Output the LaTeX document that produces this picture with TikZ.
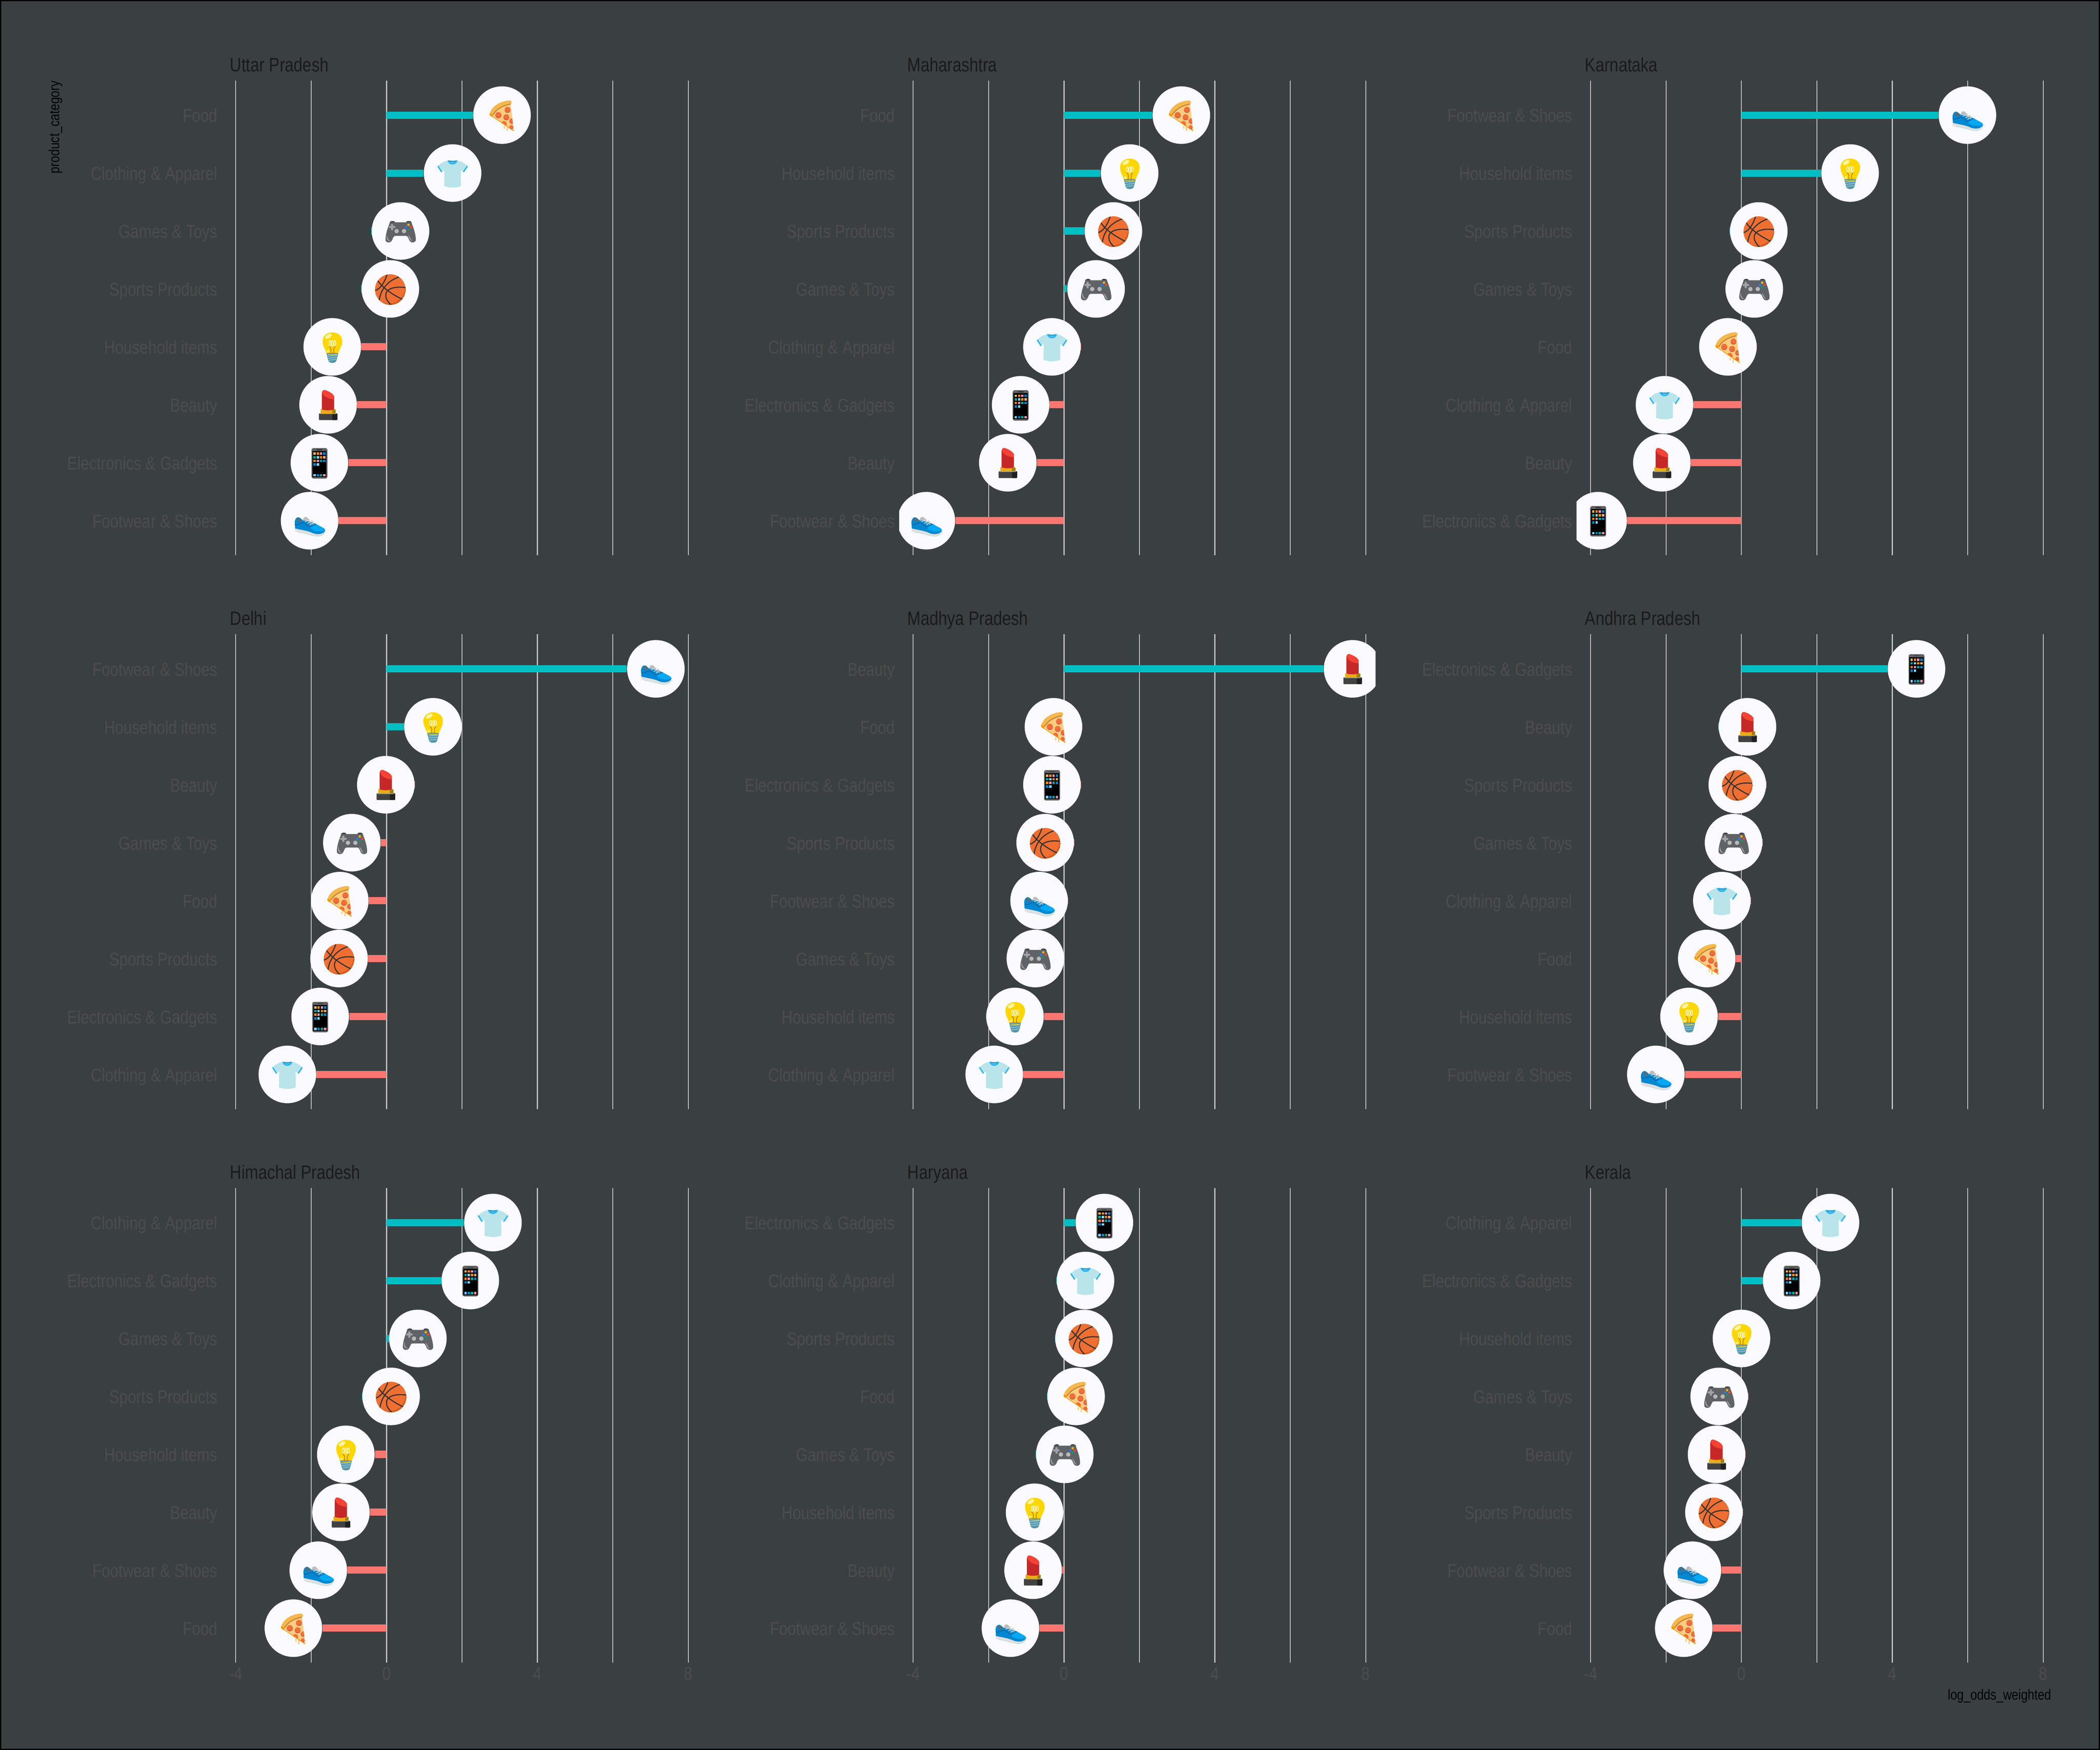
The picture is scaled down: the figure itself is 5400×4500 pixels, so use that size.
\documentclass[tikz,border=0pt]{standalone}
\usepackage{fontspec}
\setmainfont[FakeStretch=0.82]{Liberation Sans}
\usetikzlibrary{backgrounds}

\definecolor{pagebg}{HTML}{3A3F42}
\definecolor{gridc}{HTML}{C4C4C4}
\definecolor{labelc}{HTML}{4D4D4D}
\definecolor{titlec}{HTML}{1A1A1A}
\definecolor{barpos}{HTML}{00BFC4}
\definecolor{barneg}{HTML}{FB7670}
\definecolor{badgec}{HTML}{FBFBFF}
% Emoji colours.
\definecolor{cheese}{HTML}{FFCC80}
\definecolor{crust}{HTML}{F5B84F}
\definecolor{crustd}{HTML}{C47F2D}
\definecolor{sauce}{HTML}{FF9800}
\definecolor{pepper}{HTML}{EE6F37}
\definecolor{pepperd}{HTML}{D32F3F}
\definecolor{shirt}{HTML}{B9E4EA}
\definecolor{shirtc}{HTML}{29B6F6}
\definecolor{shirtd}{HTML}{0288D1}
\definecolor{shirti}{HTML}{8FC7C9}
\definecolor{padc}{HTML}{5F6368}
\definecolor{padd}{HTML}{3C4043}
\definecolor{padl}{HTML}{B8B8B8}
\definecolor{padm}{HTML}{A0A2A4}
\definecolor{btny}{HTML}{FFB300}
\definecolor{btnb}{HTML}{2979FF}
\definecolor{btnr}{HTML}{F44336}
\definecolor{btng}{HTML}{0F9D58}
\definecolor{ballc}{HTML}{EF6F32}
\definecolor{balld}{HTML}{D95B1C}
\definecolor{balll}{HTML}{333333}
\definecolor{bulbc}{HTML}{FFD600}
\definecolor{bulbl}{HTML}{FFF59D}
\definecolor{bulbs}{HTML}{A66500}
\definecolor{basec}{HTML}{5596AB}
\definecolor{basel}{HTML}{94CBD8}
\definecolor{lipd}{HTML}{C62828}
\definecolor{lipl}{HTML}{F44336}
\definecolor{gold}{HTML}{E9AB17}
\definecolor{goldd}{HTML}{A17F12}
\definecolor{tube}{HTML}{424242}
\definecolor{tubed}{HTML}{212121}
\definecolor{tubel}{HTML}{78909C}
\definecolor{phone}{HTML}{616161}
\definecolor{apptan}{HTML}{E0B070}
\definecolor{apporg}{HTML}{FB8C00}
\definecolor{apppnk}{HTML}{F48FB1}
\definecolor{appblu}{HTML}{0288D1}
\definecolor{apptea}{HTML}{00AF94}
\definecolor{appsky}{HTML}{81D4FA}
\definecolor{shoec}{HTML}{0288D1}
\definecolor{shoed}{HTML}{01579B}
\definecolor{shoel}{HTML}{03A9F4}
\definecolor{solec}{HTML}{E0E0E0}
\definecolor{solel}{HTML}{A5D3E3}
\definecolor{lace}{HTML}{CFD8DC}
\definecolor{tongue}{HTML}{BDBDBD}
\definecolor{collar}{HTML}{546E7A}

\tikzstyle{gridline}=[draw=gridc, line width=0.62pt]
\tikzstyle{barpos}=[draw=barpos, line width=4.6pt]
\tikzstyle{barneg}=[draw=barneg, line width=4.6pt]
\tikzstyle{badge}=[circle, fill=badgec, minimum size=37pt, inner sep=0pt]
\tikzstyle{catlabel}=[anchor=base east, inner sep=0pt, text=labelc, font=\fontsize{11.9}{14}\selectfont]
\tikzstyle{ticklabel}=[anchor=base, inner sep=0pt, text=labelc, font=\fontsize{11.9}{14}\selectfont]
\tikzstyle{paneltitle}=[anchor=base west, inner sep=0pt, text=titlec, font=\fontsize{12.5}{15}\selectfont]
\tikzstyle{axistitle}=[inner sep=0pt, text=black, font=\fontsize{9.4}{12}\selectfont]
\tikzstyle{iconbox}=[x=0.08333pt, y=-0.08333pt, shift={(-240,-240)}]

\newcommand{\labfood}{Food}
\newcommand{\labcloth}{Clothing \& Apparel}
\newcommand{\labgames}{Games \& Toys}
\newcommand{\labsports}{Sports Products}
\newcommand{\labhouse}{Household items}
\newcommand{\labbeauty}{Beauty}
\newcommand{\labelec}{Electronics \& Gadgets}
\newcommand{\labfoot}{Footwear \& Shoes}

\newcommand{\iconfood}{%
  \draw[cheese, line width=0.8pt, line cap=round] (258,325) -- (258,342);
  \draw[cheese, line width=0.9pt, line cap=round] (280,335) -- (280,358);
  \fill[cheese] (150,232) .. controls (200,180) and (250,155) .. (305,145) -- (332,362) -- cycle;
  \begin{scope}
    \clip (150,232) .. controls (200,180) and (250,155) .. (305,145) -- (330,362) -- cycle;
    \foreach \cx/\cy/\cr in {283/197/22, 212/238/23, 273/254/22, 317/283/20, 255/305/20, 312/331/15} {
      \fill[pepperd] (\cx,\cy+3) circle (\cr);
      \fill[pepper] (\cx,\cy) circle (\cr-1);
    }
  \end{scope}
  \draw[sauce, line width=0.45pt, line cap=round] (160,246) -- (330,362);
  \fill[crust] (146,228) .. controls (160,170) and (230,130) .. (298,127) .. controls (318,128) and (318,150) .. (308,155) .. controls (250,160) and (200,190) .. (172,238) .. controls (165,258) and (146,250) .. cycle;
  \draw[crustd, line width=0.6pt] (170,238) .. controls (200,190) and (250,165) .. (306,155);
  \fill[sauce] (143,228) .. controls (150,222) and (165,232) .. (170,240) .. controls (168,258) and (146,256) .. cycle;
}
\newcommand{\iconcloth}{%
  \fill[shirt] (205,142) .. controls (170,150) and (145,165) .. (125,188) -- (155,232) -- (177,218) -- (175,340) .. controls (215,356) and (265,356) .. (305,340) -- (303,218) -- (325,232) -- (356,188) .. controls (335,165) and (310,150) .. (275,142) -- cycle;
  \fill[shirti] (210,145) .. controls (220,172) and (260,172) .. (270,145) -- cycle;
  \draw[shirtd, line width=0.5pt] (212,146) .. controls (225,153) and (255,153) .. (268,146);
  \draw[shirtc, line width=1.05pt] (207,143) .. controls (218,176) and (262,176) .. (273,143);
  \draw[shirtc, line width=0.85pt, line cap=round] (128,188) -- (155,230);
  \draw[shirtc, line width=0.85pt, line cap=round] (353,188) -- (325,230);
}
\newcommand{\icongames}{%
  \fill[padd, rounded corners=1pt] (152,190) -- (160,163) -- (197,163) -- (197,190) -- cycle;
  \fill[padd, rounded corners=1pt] (283,190) -- (283,163) -- (322,163) -- (330,190) -- cycle;
  \fill[padc] (160,172) .. controls (200,174) and (280,174) .. (322,172) .. controls (342,215) and (358,270) .. (358,305) .. controls (358,332) and (328,334) .. (315,322) .. controls (302,310) and (300,278) .. (285,278) -- (197,278) .. controls (182,278) and (180,310) .. (167,322) .. controls (154,334) and (124,332) .. (124,305) .. controls (124,270) and (140,215) .. (160,172) -- cycle;
  \draw[padm, line width=1.3pt, line cap=round] (175,192) -- (175,228) (157,210) -- (193,210);
  \fill[padl] (210,241) circle (17);
  \fill[padl] (267,241) circle (17);
  \fill[btny] (301,192) circle (9.5);
  \fill[btnb] (283,210) circle (9.5);
  \fill[btnr] (319,210) circle (9.5);
  \fill[btng] (301,227) circle (9.5);
  \fill[padm] (135,268) .. controls (127,300) and (138,322) .. (165,318) .. controls (148,315) and (138,295) .. cycle;
  \fill[padm] (298,270) .. controls (315,285) and (320,310) .. (332,320) .. controls (315,318) and (305,295) .. cycle;
}
\newcommand{\iconsports}{%
  \begin{scope}
    \clip (240,245) circle (118);
    \fill[ballc] (240,245) circle (118);
    \fill[balld, even odd rule] (240,245) circle (118) (225,225) circle (128);
    \draw[balll, line width=0.7pt] (215,130) .. controls (197,180) and (172,235) .. (124,252);
    \draw[balll, line width=0.7pt] (144,178) .. controls (180,230) and (250,280) .. (332,320);
    \draw[balll, line width=0.7pt] (307,148) .. controls (227,175) and (167,235) .. (154,328);
    \draw[balll, line width=0.7pt] (357,230) .. controls (292,220) and (207,230) .. (205,285) .. controls (202,320) and (227,345) .. (245,362);
  \end{scope}
}
\newcommand{\iconhouse}{%
  \fill[bulbc] (195,292) .. controls (192,262) and (166,240) .. (166,195) .. controls (166,155) and (200,128) .. (241,128) .. controls (282,128) and (317,155) .. (317,195) .. controls (317,240) and (290,262) .. (287,292) -- cycle;
  \fill[bulbl, rotate around={32:(211,158)}] (211,158) ellipse (29 and 15);
  \fill[bulbl] (207,275) circle (9);
  \fill[sauce, opacity=0.55] (198,292) .. controls (198,280) and (284,280) .. (284,292) -- cycle;
  \draw[bulbs, line width=0.35pt] (218,232) .. controls (218,245) and (230,245) .. (230,258) -- (230,290);
  \draw[bulbs, line width=0.35pt] (264,232) .. controls (264,245) and (252,245) .. (252,258) -- (252,290);
  \draw[white, line width=0.35pt] (222,212) ellipse (7 and 22) (241,212) ellipse (7 and 22) (260,212) ellipse (7 and 22);
  \fill[basec, rounded corners=0.5pt] (195,288) -- (287,288) -- (273,345) .. controls (262,368) and (220,368) .. (209,345) -- cycle;
  \draw[basel, line width=0.45pt] (203,312) -- (279,304) (206,328) -- (276,320) (212,344) -- (270,336);
  \draw[bulbc, line width=0.4pt] (205,298) .. controls (225,301) and (257,301) .. (277,298);
}
\newcommand{\iconbeauty}{%
  \fill[tube, rounded corners=0.4pt] (169,306) rectangle (312,358);
  \fill[tubed, rounded corners=0.4pt] (272,306) rectangle (312,358);
  \fill[tubel] (178,306) rectangle (303,312);
  \fill[gold, rounded corners=0.4pt] (182,273) rectangle (299,308);
  \fill[goldd] (272,278) rectangle (299,305);
  \fill[lipd] (192,275) -- (192,152) .. controls (194,130) and (205,122) .. (218,127) .. controls (255,140) and (282,158) .. (287,178) -- (287,275) .. controls (260,285) and (215,285) .. cycle;
  \fill[lipl] (197,151) .. controls (198,132) and (206,122) .. (218,127) .. controls (255,140) and (282,158) .. (287,178) -- (287,198) .. controls (250,195) and (212,182) .. cycle;
}
\newcommand{\iconelec}{%
  \fill[phone, rounded corners=1.2pt] (179,127) rectangle (302,362);
  \fill[black] (186,150) rectangle (295,352);
  \draw[tubed, line width=0.4pt] (219,140) -- (262,140);
  \foreach \ax/\ay/\ac in {203/170/apptan, 228/170/apporg, 253/170/apppnk, 278/170/appblu,
      203/198/apptea, 228/198/appsky, 253/198/apporg, 278/198/apptan,
      203/226/apporg, 228/226/apppnk, 253/226/apptea, 278/226/appblu,
      203/254/appblu, 228/254/appsky,
      203/336/appsky, 228/336/appblu, 253/336/apptea, 278/336/apppnk} {
    \fill[\ac] (\ax-9,\ay-9) rectangle (\ax+9,\ay+9);
  }
}
\newcommand{\iconfoot}{%
  \draw[solel, line width=0.3pt] (150,329) .. controls (210,335) and (240,350) .. (285,358) .. controls (320,364) and (350,350) .. (360,325);
  \fill[solec] (128,300) -- (130,325) .. controls (180,328) and (225,338) .. (265,352) .. controls (300,362) and (345,358) .. (360,320) -- cycle;
  \fill[tongue] (185,240) -- (195,218) .. controls (205,206) and (222,208) .. (232,228) -- (215,250) -- cycle;
  \fill[shoec] (128,300) -- (125,250) .. controls (128,222) and (145,208) .. (160,215) .. controls (172,222) and (180,230) .. (190,240) -- (215,240) -- (290,265) .. controls (325,290) and (362,295) .. (360,318) .. controls (345,345) and (300,350) .. (265,336) .. controls (230,318) and (180,312) .. cycle;
  \fill[collar, rotate around={-35:(160,235)}] (160,235) ellipse (22 and 12);
  \fill[shoel] (243,290) -- (290,265) .. controls (325,290) and (355,295) .. (360,312) .. controls (335,328) and (265,330) .. cycle;
  \draw[shoed, line width=0.35pt] (128,266) .. controls (150,282) and (180,250) .. (197,256) -- (243,290) -- (288,266);
  \draw[lace, line width=0.5pt, line cap=round] (205,247) -- (243,232) (225,260) -- (258,241) (242,272) -- (272,253);
  \draw[lace!70!gray, line width=0.5pt, line cap=round] (232,230) -- (246,262) (258,241) -- (268,272);
}

\begin{document}
\begin{tikzpicture}[x=0.25pt, y=-0.25pt]
    \useasboundingbox (0,0) rectangle (5400,4500);
    \begin{scope}[on background layer]
      \path[fill=pagebg, draw=black, line width=1.5pt] (0,0) rectangle (5400,4500);
    \end{scope}

    % Panels: number, state, zero of the axis, row offset, ranked categories.
    \foreach \pn/\state/\zx/\ty/\rows in {
      1/Uttar Pradesh/994/0/{food/3.06,cloth/1.75,games/.37,sports/.10,house/-1.44,beauty/-1.55,elec/-1.78,foot/-2.04},
      2/Maharashtra/2736/0/{food/3.11,house/1.74,sports/1.31,games/.85,cloth/-.32,elec/-1.15,beauty/-1.49,foot/-3.65},
      3/Karnataka/4478/0/{foot/5.99,house/2.88,sports/.46,games/.34,food/-.36,cloth/-2.04,beauty/-2.11,elec/-3.80},
      4/Delhi/994/1424/{foot/7.14,house/1.23,beauty/-.02,games/-.92,food/-1.24,sports/-1.26,elec/-1.76,cloth/-2.63},
      5/Madhya Pradesh/2736/1424/{beauty/7.65,food/-.28,elec/-.32,sports/-.50,foot/-.66,games/-.76,house/-1.30,cloth/-1.85},
      6/Andhra Pradesh/4478/1424/{elec/4.64,beauty/.16,sports/-.11,games/-.21,cloth/-.52,food/-.92,house/-1.39,foot/-2.27},
      7/Himachal Pradesh/994/2848/{cloth/2.82,elec/2.22,games/.83,sports/.12,house/-1.08,beauty/-1.21,foot/-1.81,food/-2.47},
      8/Haryana/2736/2848/{elec/1.07,cloth/.57,sports/.53,food/.32,games/.02,house/-.78,beauty/-.82,foot/-1.42},
      9/Kerala/4478/2848/{cloth/2.36,elec/1.33,house/.00,games/-.59,beauty/-.66,sports/-.73,foot/-1.30,food/-1.53}} {
      \begin{scope}[shift={(\zx,\ty)}]
        \node[paneltitle] (title-\pn) at (-403,184) {\state};
        \begin{scope}[on background layer]
          \foreach \gx in {-388,-194,0,194,388,582,776}
            \draw[gridline] (\gx,207) -- (\gx,1428);
        \end{scope}
        \begin{scope}
          \clip (-424,207) rectangle (801,1428);
          \foreach \ic/\val [count=\rw from 0] in \rows {
            \pgfmathsetmacro{\ry}{296+149*\rw}
            \coordinate (z-\pn-\rw) at (0,\ry);
            \node[badge] (b-\pn-\rw) at (\val*97,\ry) {};
            \ifdim\val pt<0pt \def\barc{barneg}\else\def\barc{barpos}\fi
            \begin{scope}[on background layer]
              \draw[\barc] (z-\pn-\rw) -- (b-\pn-\rw);
            \end{scope}
            \begin{scope}[shift={(\val*97,\ry)}, iconbox]
              \csname icon\ic\endcsname
            \end{scope}
          }
        \end{scope}
        \foreach \ic/\val [count=\rw from 0] in \rows {
          \pgfmathsetmacro{\ry}{314+149*\rw}
          \node[catlabel] (cat-\pn-\rw) at (-434,\ry) {\csname lab\ic\endcsname};
        }
      \end{scope}
    }

    % Axis numbers under the last row.
    \foreach \zx in {994,2736,4478}
      \foreach \tk in {-4,0,4,8}
        \node[ticklabel] (tick-\zx-\tk) at (\zx+97*\tk,4321) {\tk};

    % Axis titles.
    \node[axistitle, rotate=90, anchor=base east] (ytitle) at (153,207) {product\_category};
    \node[axistitle, anchor=base east] (xtitle) at (5275,4371) {log\_odds\_weighted};
\end{tikzpicture}
\end{document}
